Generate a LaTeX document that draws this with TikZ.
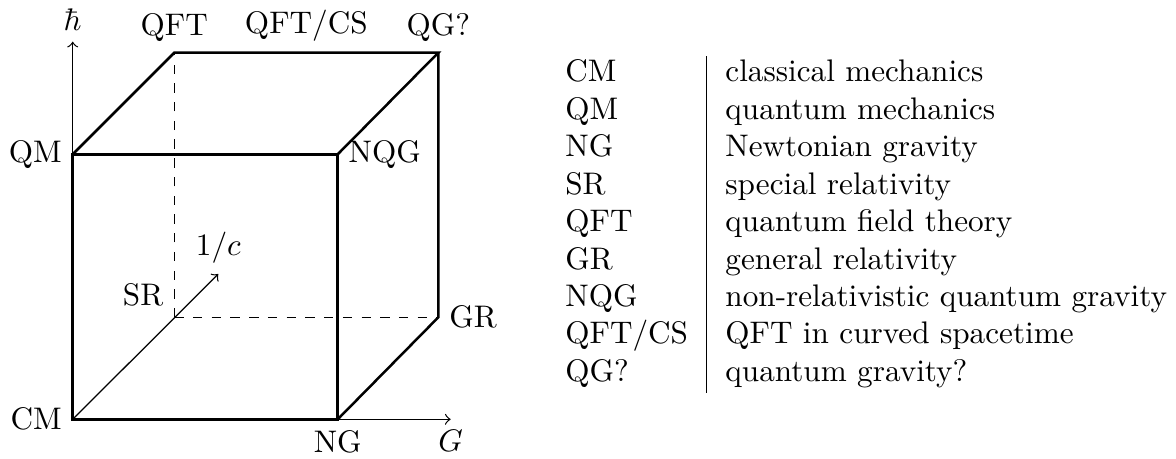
\documentclass[tikz,border=0pt]{standalone}
\begin{document}
\begin{tikzpicture}[x=0.3205pt,y=-0.3205pt,
  edge/.style={thick},
  hid/.style={dashed},
  axis/.style={->},
  lab/.style={inner sep=3.33pt}]
\useasboundingbox (0,0) rectangle (1176,458);
% corners
\coordinate (CM) at (72.7,419.3);
\coordinate (NG) at (337.7,419.3);
\coordinate (QM) at (72.7,154.3);
\coordinate (NQG) at (337.7,154.3);
\coordinate (SR) at (174.3,317.3);
\coordinate (GR) at (438.3,317.3);
\coordinate (QFT) at (174.3,52.7);
\coordinate (QG) at (438.3,52.7);
\coordinate (QFTCS) at (306.3,52.7);
% axis ends
\coordinate (hbar) at (72.7,41.7);
\coordinate (cinv) at (218.3,274);
\coordinate (Gax) at (450.7,419.3);
% axes
\draw[axis] (CM) -- (hbar);
\draw[axis] (CM) -- (cinv);
\draw[axis] (CM) -- (Gax);
% hidden edges
\draw[hid] (SR) -- (QFT);
\draw[hid] (SR) -- (GR);
% visible edges
\draw[edge] (CM) -- (NG) -- (NQG) -- (QM) -- cycle;
\draw[edge] (QM) -- (QFT) -- (QG) -- (NQG);
\draw[edge] (QG) -- (GR) -- (NG);
% labels
\node[lab,anchor=east] (lCM) at (CM) {CM};
\node[lab,anchor=north] (lNG) at (NG) {NG};
\node[lab,anchor=east] (lQM) at (QM) {QM};
\node[lab,anchor=west] (lNQG) at (NQG) {NQG};
\node[lab,anchor=south east] (lSR) at (SR) {SR};
\node[lab,anchor=west] (lGR) at (GR) {GR};
\node[lab,anchor=south] (lQFT) at (QFT) {QFT};
\node[lab,anchor=south] (lQG) at (QG) {QG?};
\node[lab,anchor=south] (lQFTCS) at (QFTCS) {QFT/CS};
\node[lab,anchor=south] (lhbar) at (hbar) {$\hbar$};
\node[lab,anchor=south] (lc) at (cinv) {$1/c$};
\node[lab,anchor=north] (lG) at (Gax) {$G$};
% table
\node[anchor=north west,inner sep=0pt] (tab) at (546,55) {%
\begin{tabular}{l|l}
CM & classical mechanics\\
QM & quantum mechanics\\
NG & Newtonian gravity\\
SR & special relativity\\
QFT & quantum field theory\\
GR & general relativity\\
NQG & non-relativistic quantum gravity\\
QFT/CS & QFT in curved spacetime\\
QG? & quantum gravity?
\end{tabular}};
\end{tikzpicture}
\end{document}
